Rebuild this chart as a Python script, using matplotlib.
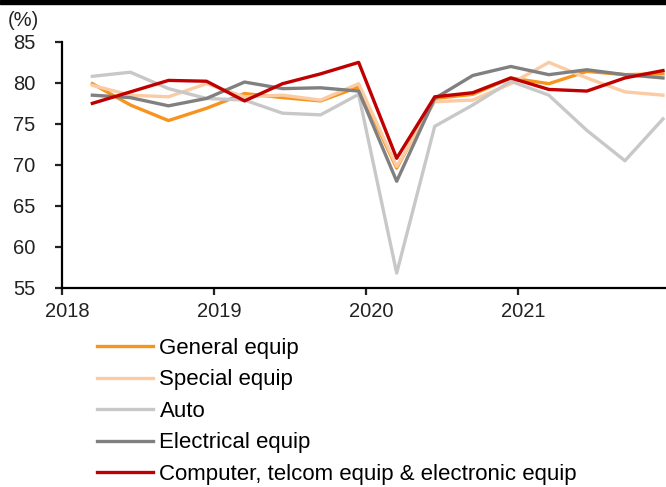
import matplotlib
matplotlib.use("Agg")
import matplotlib.pyplot as plt
import matplotlib.transforms as mtransforms
from matplotlib.patches import Rectangle

plt.rcParams['font.family'] = ['Liberation Sans', 'DejaVu Sans']

# quarterly points, 2018Q1 .. 2021Q4
x = [2018.2 + 0.25 * i for i in range(16)]

general = [79.9, 77.3, 75.4, 76.9, 78.7, 78.2, 77.8, 79.5, 69.6, 78.1, 78.6, 80.6, 79.9, 81.4, 81.0, 81.1]
special = [79.7, 78.5, 78.3, 79.9, 78.3, 78.5, 77.9, 79.9, 69.8, 77.7, 77.9, 79.9, 82.5, 80.6, 78.9, 78.5]
auto = [80.8, 81.3, 79.3, 78.1, 77.9, 76.3, 76.1, 78.6, 56.8, 74.7, 77.3, 80.2, 78.5, 74.2, 70.5, 75.6]
electrical = [78.5, 78.2, 77.2, 78.1, 80.1, 79.3, 79.4, 79.0, 68.0, 78.1, 80.9, 82.0, 81.0, 81.6, 81.0, 80.6]
computer = [77.5, 78.9, 80.3, 80.2, 77.8, 79.9, 81.1, 82.5, 70.8, 78.3, 78.8, 80.6, 79.2, 79.0, 80.6, 81.5]

labels = ["General equip", "Special equip", "Auto", "Electrical equip",
          "Computer, telcom equip & electronic equip"]
colors = ["#F7941D", "#FBCBA3", "#C8C8C8", "#808080", "#C00000"]
years = [2018, 2019, 2020, 2021]
yticks = [55, 60, 65, 70, 75, 80, 85]

fig = plt.figure(figsize=(6.66, 4.87), dpi=100)
ax = fig.add_axes([0.093, 0.409, 0.907, 0.505])

series = [general, special, auto, electrical, computer]
handles = []
for s, c, lab in zip(series, colors, labels):
    h, = ax.plot(x, s, color=c, lw=2.4, label=lab)
    handles.append(h)

ax.set_xlim(2018, 2021.97)
ax.set_ylim(55, 85)
ax.set_xticks(years)
ax.set_xticklabels([str(y) for y in years])
ax.set_yticks(yticks)
for sp in ["top", "right"]:
    ax.spines[sp].set_visible(False)
for sp in ["left", "bottom"]:
    ax.spines[sp].set_linewidth(1.6)
ax.tick_params(direction="out", length=5, width=1.6, labelsize=14.5, colors="#222222")
ax.tick_params(axis="y", pad=14)
ax.tick_params(axis="x", pad=5)
# year labels sit a little right of their ticks in the original
shift = mtransforms.ScaledTranslation(5 / 100, 0, fig.dpi_scale_trans)
for t in ax.get_xticklabels():
    t.set_transform(t.get_transform() + shift)

fig.text(0.012, 0.958, "(%)", fontsize=14.5, color="#222222", va="center")

fig.legend(handles=handles, labels=labels, loc="upper left",
           bbox_to_anchor=(0.146, 0.306), frameon=False, fontsize=16,
           handlelength=2.5, handletextpad=0.3, labelspacing=0.47,
           borderaxespad=0, borderpad=0)

fig.patches.append(Rectangle((0, 0.992), 1, 0.008, transform=fig.transFigure,
                             color="black", zorder=10))

fig.savefig("out.png", dpi=100)
